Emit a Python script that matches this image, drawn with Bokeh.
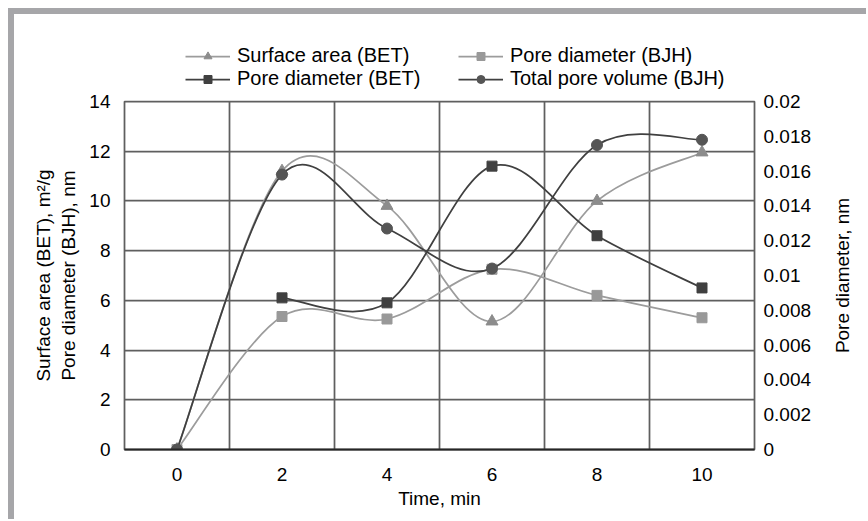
import math
import numpy as np
from bokeh.plotting import figure
from bokeh.layouts import column, row
from bokeh.models import (Range1d, LinearAxis, FixedTicker, Legend, LegendItem,
                          ColumnDataSource, CustomJSTickFormatter, Label)
from bokeh.embed import file_html
from bokeh.resources import INLINE

# ---- data ----
time_min = [0, 2, 4, 6, 8, 10]
surface_area_bet = [0, 11.2, 9.8, 5.15, 10.0, 11.95]
pore_diam_bjh = [0, 5.35, 5.25, 7.25, 6.2, 5.3]
pore_diam_bet = [None, 6.1, 5.9, 11.4, 8.6, 6.5]
total_pore_vol_bjh = [0, 0.0158, 0.0127, 0.0104, 0.0175, 0.0178]

left_ticks = [0, 2, 4, 6, 8, 10, 12, 14]
right_ticks = [0, 0.002, 0.004, 0.006, 0.008, 0.01, 0.012, 0.014, 0.016, 0.018, 0.02]

FONT = "Liberation Sans"
FS = "19px"
DARK = "#404040"
DARK_MK = "#555555"
LIGHT = "#9c9c9c"
LIGHT_MK = "#999999"
TRI_MK = "#8c8c8c"
GRID = "#5f5f5f"
LW = 1.75

series = [
    ("Surface area (BET)", surface_area_bet, LIGHT, TRI_MK, "triangle", 12, "default"),
    ("Pore diameter (BJH)", pore_diam_bjh, LIGHT, LIGHT_MK, "square", 10, "default"),
    ("Pore diameter (BET)", pore_diam_bet, DARK, DARK, "square", 10, "default"),
    ("Total pore volume (BJH)", total_pore_vol_bjh, DARK, DARK_MK, "circle", 11, "vol"),
]


def smooth_segments(xs, ys):
    """Excel-like smoothed line: cubic Bezier segments (Catmull-Rom, 1/6)."""
    pts = [(x, y) for x, y in zip(xs, ys) if y is not None]
    n = len(pts)
    out = {k: [] for k in ("x0", "y0", "x1", "y1", "cx0", "cy0", "cx1", "cy1")}
    for i in range(n - 1):
        p0 = pts[i - 1] if i > 0 else pts[i]
        p1 = pts[i]
        p2 = pts[i + 1]
        p3 = pts[i + 2] if i + 2 < n else pts[i + 1]
        out["x0"].append(p1[0]); out["y0"].append(p1[1])
        out["x1"].append(p2[0]); out["y1"].append(p2[1])
        out["cx0"].append(p1[0] + (p2[0] - p0[0]) / 6.0)
        out["cy0"].append(p1[1] + (p2[1] - p0[1]) / 6.0)
        out["cx1"].append(p2[0] - (p3[0] - p1[0]) / 6.0)
        out["cy1"].append(p2[1] - (p3[1] - p1[1]) / 6.0)
    return out


def valid(xs, ys):
    px = [x for x, y in zip(xs, ys) if y is not None]
    py = [y for y in ys if y is not None]
    return px, py


def blank_figure(w, h):
    f = figure(width=w, height=h, x_range=Range1d(0, 1), y_range=Range1d(0, 1),
               output_backend="svg", toolbar_location=None,
               x_axis_location=None, y_axis_location=None,
               min_border_left=0, min_border_right=0, min_border_top=0, min_border_bottom=0)
    f.frame_align = False
    f.outline_line_color = None
    f.xgrid.visible = False
    f.ygrid.visible = False
    f.background_fill_color = "white"
    f.border_fill_color = "white"
    return f


MAIN_W = 808

# ---------------- legend strip ----------------
lf = blank_figure(MAIN_W, 76)
items = {}
for name, ys, lc, mc, mk, sz, rng in series:
    lr = lf.line(np.array([np.nan]), np.array([np.nan]), line_color=lc, line_width=LW)
    sr = lf.scatter(np.array([np.nan]), np.array([np.nan]), marker=mk, size=sz,
                    fill_color=mc, line_color=mc)
    items[name] = LegendItem(label=name, renderers=[lr, sr])

common = dict(orientation="vertical", padding=0, margin=0, spacing=0,
              glyph_width=45, glyph_height=20, label_height=20, label_standoff=7,
              border_line_alpha=0, background_fill_alpha=0,
              label_text_font=FONT, label_text_font_size="20px", label_text_color="black")
leg1 = Legend(items=[items["Surface area (BET)"], items["Pore diameter (BET)"]],
              location=(171, 0), **common)
leg2 = Legend(items=[items["Pore diameter (BJH)"], items["Total pore volume (BJH)"]],
              location=(444, 0), **common)
lf.add_layout(leg1, "center")
lf.add_layout(leg2, "center")

# ---------------- main chart ----------------
p = figure(width=MAIN_W, height=429,
           x_range=Range1d(-1, 11), y_range=Range1d(0, 14),
           output_backend="svg", toolbar_location=None,
           min_border_left=110, min_border_right=68,
           min_border_top=11, min_border_bottom=70)
p.extra_y_ranges = {"vol": Range1d(0, 0.02)}

p.outline_line_color = GRID
p.outline_line_width = 1.75
p.background_fill_color = "white"
p.border_fill_color = "white"

# grid at category boundaries
bounds = [(a + b) / 2.0 for a, b in zip(time_min[:-1], time_min[1:])]
p.xgrid.ticker = FixedTicker(ticks=bounds)
p.ygrid.ticker = FixedTicker(ticks=left_ticks)
for g in (p.xgrid, p.ygrid):
    g.grid_line_color = GRID
    g.grid_line_width = 1.75

xa = p.xaxis[0]
xa.ticker = FixedTicker(ticks=time_min)
xa.axis_label = "Time, min"
xa.axis_line_color = "#262626"
xa.axis_line_width = 2

ya = p.yaxis[0]
ya.ticker = FixedTicker(ticks=left_ticks)
ya.axis_label = "Surface area (BET), m\u00b2/g\nPore diameter (BJH), nm"
ya.axis_line_color = None

ra = LinearAxis(y_range_name="vol", ticker=FixedTicker(ticks=right_ticks),
                formatter=CustomJSTickFormatter(code="return String(parseFloat(tick.toFixed(4)));"))
ra.axis_line_color = None
p.add_layout(ra, "right")

for ax in (xa, ya, ra):
    ax.major_tick_line_color = None
    ax.minor_tick_line_color = None
    ax.major_label_text_font = FONT
    ax.major_label_text_font_size = FS
    ax.major_label_text_color = "black"
    ax.axis_label_text_font = FONT
    ax.axis_label_text_font_size = FS
    ax.axis_label_text_font_style = "normal"
    ax.axis_label_text_color = "black"

xa.major_label_standoff = 12
xa.axis_label_standoff = 4
ya.major_label_standoff = 8
ya.axis_label_standoff = 7
ra.major_label_standoff = 3

for name, ys, lc, mc, mk, sz, rng in series:
    seg = ColumnDataSource(smooth_segments(time_min, ys))
    p.bezier(x0="x0", y0="y0", x1="x1", y1="y1", cx0="cx0", cy0="cy0",
             cx1="cx1", cy1="cy1", source=seg, line_color=lc, line_width=LW,
             y_range_name=rng)
    px, py = valid(time_min, ys)
    p.scatter(px, py, marker=mk, size=sz, fill_color=mc, line_color=mc,
              y_range_name=rng)

# ---------------- right-hand axis title strip ----------------
tf = blank_figure(44, 505)
tf.add_layout(Label(x=20, y=244, x_units="screen", y_units="screen",
                    text="Pore diameter, nm", angle=math.pi / 2,
                    text_align="center", text_baseline="middle",
                    text_font=FONT, text_font_size=FS, text_color="black"))

layout = row(column(lf, p, spacing=0), tf, spacing=0)
layout.styles = {"margin-left": "8px", "margin-top": "8px",
                 "border-top": "6px solid #a6a6a9", "border-left": "6px solid #a6a6a9"}

open("out.html", "w").write(file_html(layout, INLINE, "chart"))
